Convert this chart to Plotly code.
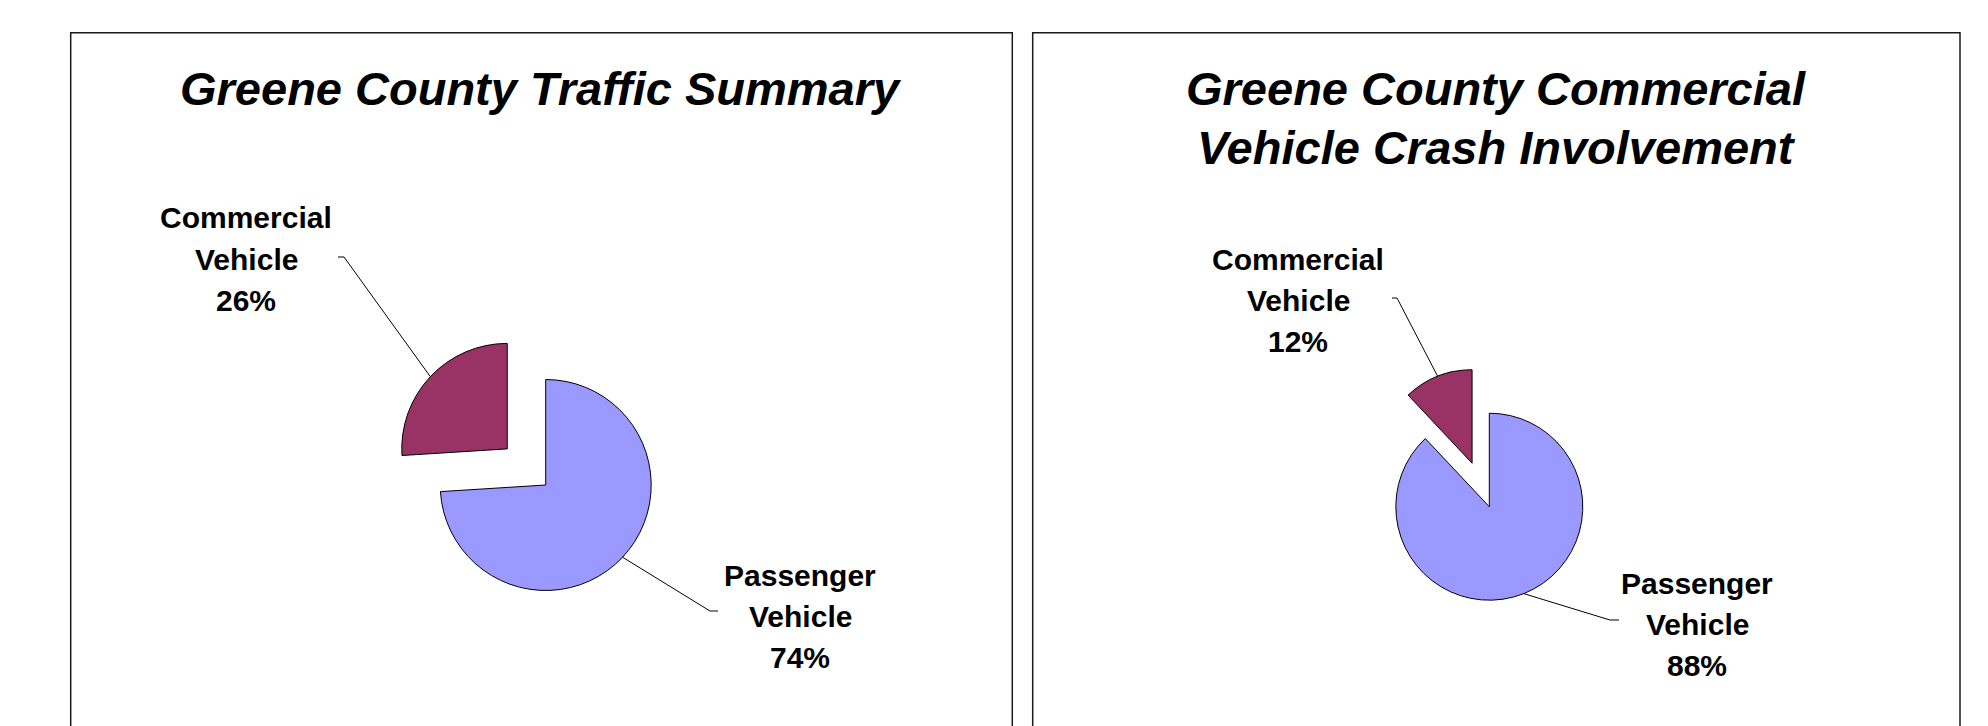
import math
import plotly.graph_objects as go

W, H = 1988, 726
OFF = 8  # the page body margin shifts the figure by 8 px; compensate

# ---------------- data ----------------
categories = ["Passenger Vehicle", "Commercial Vehicle"]
traffic_pct = [74, 26]          # Greene County Traffic Summary
crash_pct = [88, 12]            # Commercial vehicle crash involvement
slice_colors = ["#9999FF", "#993366"]
slice_pull = [0, 0.5]
chart_titles = [["Greene County Traffic Summary"],
                ["Greene County Commercial", "Vehicle Crash Involvement"]]

# ---------------- layout geometry (pixels, page coordinates) ----------------
pie_centers = [(545.7, 485.0), (1489.3, 506.7)]
pie_radii = [105.5, 93.5]
panels = [(70.7, 1012.3), (1032.7, 1960.0)]
panel_top = 32.7
title_x = [541, 1496]
title_y = [[89], [89, 147]]
# label centres (middle line): per chart, per slice
label_pos = [[(800, 616), (246, 259)], [(1697, 624), (1298, 300)]]
label_step = 41
# leader line: (outer end x, elbow x, y)
leader_pos = [[(718, 710, 611), (338, 344, 257)],
              [(1619, 1610, 620), (1392, 1397, 298)]]

FONT = "Liberation Sans, Arial, Helvetica, sans-serif"


def px(x):
    return (x - OFF) / W


def py(y):
    return 1 - (y - OFF) / H


fig = go.Figure()
annotations = []
shapes = []

for k, values in enumerate([traffic_pct, crash_pct]):
    cx, cy = pie_centers[k]
    r = pie_radii[k]
    half = r * (1 + max(slice_pull))
    fig.add_trace(go.Pie(
        labels=categories,
        values=values,
        sort=False,
        direction="clockwise",
        rotation=0,
        pull=slice_pull,
        marker=dict(colors=slice_colors, line=dict(color="black", width=1)),
        textinfo="none",
        hoverinfo="label+percent",
        showlegend=False,
        domain=dict(x=[px(cx - half), px(cx + half)],
                    y=[py(cy + half), py(cy - half)]),
    ))

    for line, ty in zip(chart_titles[k], title_y[k]):
        annotations.append(dict(
            text=line, x=px(title_x[k]), y=py(ty), xref="paper", yref="paper",
            xanchor="center", yanchor="middle", showarrow=False, align="center",
            font=dict(family=FONT, size=47, color="black", weight="bold", style="italic"),
        ))

    total = sum(values)
    cum = 0
    for i, v in enumerate(values):
        frac0 = cum / total
        cum += v
        frac1 = cum / total
        theta = math.radians((frac0 + frac1) / 2 * 360)
        dx, dy = math.sin(theta), -math.cos(theta)
        reach = r * (1 + slice_pull[i])
        ax, ay = cx + reach * dx, cy + reach * dy

        lx, ly = label_pos[k][i]
        pct = round(100 * v / total)
        lines = categories[i].split(" ") + [f"{pct}%"]
        for j, txt in enumerate(lines):
            annotations.append(dict(
                text=txt, x=px(lx), y=py(ly + (j - 1) * label_step),
                xref="paper", yref="paper",
                xanchor="center", yanchor="middle", showarrow=False, align="center",
                font=dict(family=FONT, size=30, color="black", weight="bold"),
            ))

        ex, bx, ey = leader_pos[k][i]
        path = (f"M {px(ex)},{py(ey)} L {px(bx)},{py(ey)} "
                f"L {px(ax)},{py(ay)}")
        shapes.append(dict(type="path", path=path, xref="paper", yref="paper",
                           line=dict(color="black", width=1)))

for (x0, x1) in panels:
    path = (f"M {px(x0)},{py(H + 30)} L {px(x0)},{py(panel_top)} "
            f"L {px(x1)},{py(panel_top)} L {px(x1)},{py(H + 30)}")
    shapes.append(dict(type="path", path=path, xref="paper", yref="paper",
                       line=dict(color="#1a1a1a", width=1.5)))

fig.update_layout(
    width=W, height=H,
    margin=dict(l=0, r=0, t=0, b=0),
    paper_bgcolor="white", plot_bgcolor="white",
    annotations=annotations,
    shapes=shapes,
)

fig.write_html("out.html")
